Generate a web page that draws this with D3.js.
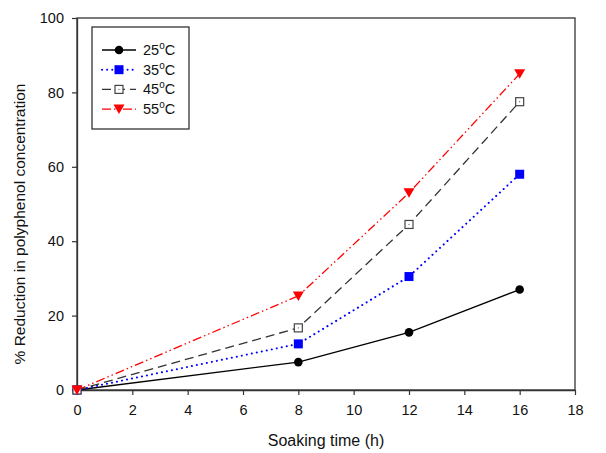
<!DOCTYPE html>
<html>
<head>
<meta charset="utf-8">
<script src="https://cdn.jsdelivr.net/npm/d3@7"></script>
<style>
  body { margin: 0; background: #fff; }
  svg { font-family: "Liberation Sans", Arial, sans-serif; }
</style>
</head>
<body>
<svg id="chart" width="606" height="453"></svg>
<script>
const times = [0, 8, 12, 16];
const temps = ["25", "35", "45", "55"];
const r25 = [0, 7.5, 15.5, 27];
const r35 = [0, 12.4, 30.5, 58];
const r45 = [0, 16.7, 44.5, 77.5];
const r55 = [0, 25.3, 53, 85];
const xTicks = [0, 2, 4, 6, 8, 10, 12, 14, 16, 18];
const yTicks = [0, 20, 40, 60, 80, 100];

const series = [
  { temp: temps[0], values: r25, color: "#000", dash: null, marker: "circle" },
  { temp: temps[1], values: r35, color: "#0000ff", dash: "0.1,5", marker: "square" },
  { temp: temps[2], values: r45, color: "#333", dash: "9,5", marker: "open" },
  { temp: temps[3], values: r55, color: "#ff0000", dash: "9,3,1.5,3,1.5,3", marker: "tri" }
];

const svg = d3.select("#chart");
const margin = { top: 18, right: 31, bottom: 63, left: 77 };
const width = 606, height = 453;
const innerWidth = width - margin.left - margin.right;
const innerHeight = height - margin.top - margin.bottom;

const g = svg.append("g").attr("transform", `translate(${margin.left},${margin.top})`);

const x = d3.scaleLinear().domain([0, 18]).range([0, innerWidth]);
const y = d3.scaleLinear().domain([0, 100]).range([innerHeight, 0]);

// frame
g.append("rect")
  .attr("width", innerWidth).attr("height", innerHeight)
  .attr("fill", "none").attr("stroke", "#333").attr("stroke-width", 1.3);

const xAxis = g.append("g")
  .attr("transform", `translate(0,${innerHeight})`)
  .call(d3.axisBottom(x).tickValues(xTicks).tickSize(5).tickSizeOuter(0).tickPadding(10));
const yAxis = g.append("g")
  .call(d3.axisLeft(y).tickValues(yTicks).tickSize(5).tickSizeOuter(0).tickPadding(8));

[xAxis, yAxis].forEach(a => {
  a.select(".domain").attr("stroke", "#333").attr("stroke-width", 1.3);
  a.selectAll(".tick line").attr("stroke", "#333").attr("stroke-width", 1.2);
  a.selectAll(".tick text").attr("fill", "#111").style("font-size", "14.5px")
    .style("font-family", "Liberation Sans, Arial, sans-serif");
});

const line = d3.line().x((d, i) => x(times[i])).y(d => y(d));

function drawMarker(sel, s, cx, cy) {
  if (s.marker === "circle") {
    sel.append("circle").attr("cx", cx).attr("cy", cy).attr("r", 4.3).attr("fill", "#000");
  } else if (s.marker === "square") {
    sel.append("rect").attr("x", cx - 4.5).attr("y", cy - 4.5).attr("width", 9).attr("height", 9).attr("fill", "#0000ff");
  } else if (s.marker === "open") {
    sel.append("rect").attr("x", cx - 4).attr("y", cy - 4).attr("width", 8).attr("height", 8)
      .attr("fill", "#fff").attr("stroke", "#444").attr("stroke-width", 1.2);
    sel.append("circle").attr("cx", cx).attr("cy", cy).attr("r", 0.6).attr("fill", "#666");
  } else {
    sel.append("path")
      .attr("d", `M${cx - 5.5},${cy - 4.5}L${cx + 5.5},${cy - 4.5}L${cx},${cy + 5}Z`)
      .attr("fill", "#ff0000");
  }
}

function styleLine(sel, s) {
  const dotted = s.marker === "square";
  sel.attr("stroke", s.color)
    .attr("stroke-width", dotted ? 2 : 1.3)
    .attr("stroke-linecap", dotted ? "round" : "butt")
    .attr("stroke-dasharray", s.dash);
}

series.forEach(s => {
  g.append("path")
    .datum(s.values)
    .attr("fill", "none")
    .attr("d", line)
    .call(styleLine, s);
});
series.forEach(s => {
  const mg = g.append("g");
  s.values.forEach((v, i) => drawMarker(mg, s, x(times[i]), y(v)));
});

// legend
const lg = svg.append("g").attr("transform", "translate(92,27)");
lg.append("rect").attr("width", 97).attr("height", 102)
  .attr("fill", "#fff").attr("stroke", "#333").attr("stroke-width", 1.3);
series.forEach((s, i) => {
  const ly = 23 + i * 19.7;
  lg.append("line").attr("x1", 10).attr("x2", 44).attr("y1", ly).attr("y2", ly).call(styleLine, s);
  drawMarker(lg, s, 27, ly);
  const t = lg.append("text").attr("x", 51).attr("y", ly + 5).style("font-size", "14.5px").attr("fill", "#111");
  t.append("tspan").text(s.temp);
  t.append("tspan").attr("dy", -6).style("font-size", "10px").text("o");
  t.append("tspan").attr("dy", 6).text("C");
});

// axis titles
svg.append("text")
  .attr("x", margin.left + innerWidth / 2)
  .attr("y", 446)
  .attr("text-anchor", "middle")
  .style("font-size", "16px").attr("fill", "#111")
  .text("Soaking time (h)");

svg.append("text")
  .attr("transform", `translate(25,${margin.top + innerHeight / 2 + 20}) rotate(-90)`)
  .attr("text-anchor", "middle")
  .style("font-size", "15.5px").attr("fill", "#111")
  .text("% Reduction in polyphenol concentration");
</script>
</body>
</html>
